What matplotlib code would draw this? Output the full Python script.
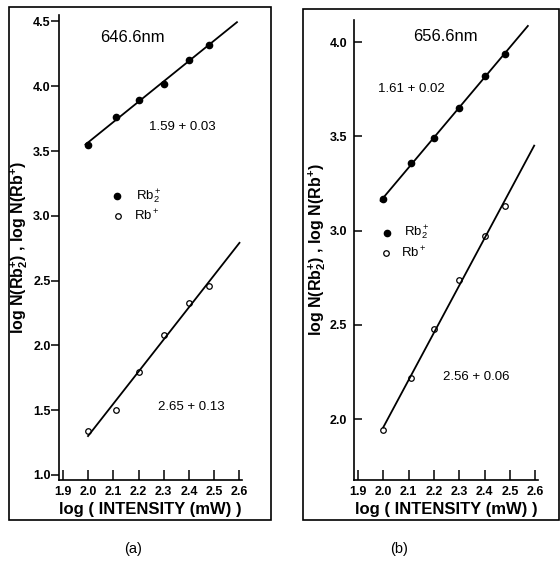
"""Log-log intensity dependence of Rb2+ and Rb+ ion signals at two wavelengths."""

import matplotlib

matplotlib.use("Agg")
import matplotlib.pyplot as plt
import numpy as np
from matplotlib.patches import Rectangle

plt.rcParams["font.family"] = ["Liberation Sans", "DejaVu Sans"]
plt.rcParams["mathtext.fontset"] = "custom"
plt.rcParams["mathtext.rm"] = "Liberation Sans"
plt.rcParams["mathtext.it"] = "Liberation Sans"
plt.rcParams["mathtext.bf"] = "Liberation Sans:bold"

# log(intensity / mW), same for both panels
log_intensity = [2.0, 2.11, 2.2, 2.3, 2.4, 2.48]

# panel (a), 646.6 nm
rb2_a = [3.55, 3.76, 3.89, 4.02, 4.20, 4.32]
rb_a = [1.34, 1.50, 1.79, 2.08, 2.33, 2.46]
slope_labels_a = ["1.59 + 0.03", "2.65 + 0.13"]

# panel (b), 656.6 nm
rb2_b = [3.17, 3.36, 3.49, 3.65, 3.82, 3.94]
rb_b = [1.94, 2.22, 2.48, 2.74, 2.97, 3.13]
slope_labels_b = ["1.61 + 0.02", "2.56 + 0.06"]

x_ticks = [1.9, 2.0, 2.1, 2.2, 2.3, 2.4, 2.5, 2.6]
y_ticks_a = [1.0, 1.5, 2.0, 2.5, 3.0, 3.5, 4.0, 4.5]
y_ticks_b = [2.0, 2.5, 3.0, 3.5, 4.0]

ylabel = r"log N(Rb$_\mathbf{2}^\mathbf{+}$) , log N(Rb$^\mathbf{+}$)"
xlabel = "log ( INTENSITY (mW) )"

W, H = 560, 570
fig = plt.figure(figsize=(W / 100, H / 100), dpi=100)


def fig_rect(x0, y0, x1, y1):
    """pixel box (top-left origin) -> figure fraction [l, b, w, h]"""
    return [x0 / W, 1 - y1 / H, (x1 - x0) / W, (y1 - y0) / H]


def fit_line(ax, x, y, x_range):
    k, b = np.polyfit(x, y, 1)
    xs = np.array(x_range)
    ax.plot(xs, k * xs + b, color="black", lw=1.3)


def setup(ax, ylim, yticks, ytick_dir, ytick_pad, ylabelpad):
    ax.set_xlim(1.885, 2.61)
    ax.set_ylim(*ylim)
    ax.set_xticks(x_ticks)
    ax.set_yticks(yticks)
    ax.spines["top"].set_visible(False)
    ax.spines["right"].set_visible(False)
    ax.spines["left"].set_linewidth(1.2)
    ax.spines["bottom"].set_linewidth(1.2)
    ax.tick_params(axis="x", direction="in", length=7, width=1.1, pad=4,
                   labelsize=9)
    ax.tick_params(axis="y", direction=ytick_dir, length=6, width=1.1,
                   pad=ytick_pad, labelsize=9)
    for lab in ax.get_xticklabels() + ax.get_yticklabels():
        lab.set_fontweight("bold")
    ax.set_xlabel(xlabel, fontsize=12, fontweight="bold", labelpad=3)
    ax.set_ylabel(ylabel, fontsize=11.5, fontweight="bold", labelpad=ylabelpad)
    ax.patch.set_alpha(0)


# ---- panel (a)
ax_a = fig.add_axes(fig_rect(59, 15, 242, 480))
setup(ax_a, (0.96, 4.55), y_ticks_a, "out", 0, 2)
ax_a.plot(log_intensity, rb2_a, "o", color="black", ms=4.5)
ax_a.plot(log_intensity, rb_a, "o", mfc="white", mec="black", mew=0.9, ms=4)
fit_line(ax_a, log_intensity, rb2_a, [1.99, 2.59])
fit_line(ax_a, log_intensity, rb_a, [2.0, 2.6])
ax_a.text(2.176, 4.377, "646.6nm", ha="center", va="center", fontsize=12)
ax_a.text(2.372, 3.683, slope_labels_a[0], ha="center", va="center", fontsize=9.5)
ax_a.text(2.408, 1.524, slope_labels_a[1], ha="center", va="center", fontsize=9.5)
ax_a.plot([2.116], [3.151], "o", color="black", ms=4.5)
ax_a.plot([2.12], [2.997], "o", mfc="white", mec="black", mew=0.9, ms=4)
ax_a.text(2.19, 3.151, r"Rb$_2^+$", va="center", fontsize=9.5)
ax_a.text(2.184, 3.0, r"Rb$^+$", va="center", fontsize=9.5)

# ---- panel (b)
ax_b = fig.add_axes(fig_rect(354, 20, 538, 480))
setup(ax_b, (1.677, 4.118), y_ticks_b, "in", 5, 1)
ax_b.plot(log_intensity, rb2_b, "o", color="black", ms=4.5)
ax_b.plot(log_intensity, rb_b, "o", mfc="white", mec="black", mew=0.9, ms=4)
fit_line(ax_b, log_intensity, rb2_b, [1.99, 2.57])
fit_line(ax_b, log_intensity, rb_b, [2.0, 2.595])
ax_b.text(2.245, 4.03, "656.6nm", ha="center", va="center", fontsize=12)
ax_b.text(2.113, 3.751, slope_labels_b[0], ha="center", va="center", fontsize=9.5)
ax_b.text(2.367, 2.224, slope_labels_b[1], ha="center", va="center", fontsize=9.5)
ax_b.plot([2.014], [2.988], "o", color="black", ms=4.5)
ax_b.plot([2.012], [2.882], "o", mfc="white", mec="black", mew=0.9, ms=4)
ax_b.text(2.081, 2.988, r"Rb$_2^+$", va="center", fontsize=9.5)
ax_b.text(2.071, 2.885, r"Rb$^+$", va="center", fontsize=9.5)

# frames around each panel
for x0, y0, x1, y1 in [(9, 7, 271, 520), (303, 9, 559, 520)]:
    l, b, w, h = fig_rect(x0, y0, x1, y1)
    fig.patches.append(Rectangle((l, b), w, h, transform=fig.transFigure,
                                 fill=False, lw=1.2, color="black"))

fig.text(133 / W, 1 - 549 / H, "(a)", ha="center", va="center", fontsize=10.5)
fig.text(399 / W, 1 - 549 / H, "(b)", ha="center", va="center", fontsize=10.5)

fig.savefig("out.png", dpi=100)
plt.close(fig)
